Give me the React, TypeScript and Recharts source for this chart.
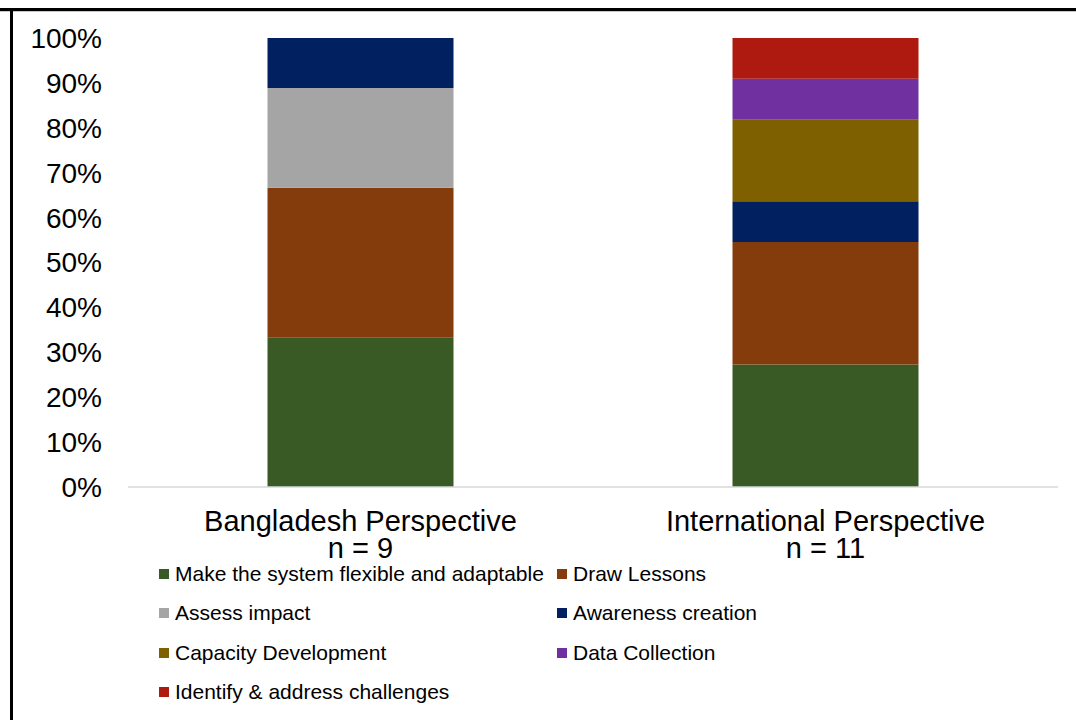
import React from 'react';
import { BarChart, Bar, XAxis, YAxis } from 'recharts';

// Perspectives compared and the number of responses behind each
const categories = ['Bangladesh Perspective', 'International Perspective'];
const sampleSizes = [9, 11];

// Response counts per theme, one entry per perspective
const makeFlexible = [3, 3];
const drawLessons = [3, 3];
const assessImpact = [2, 0];
const awarenessCreation = [1, 1];
const capacityDevelopment = [0, 2];
const dataCollection = [0, 1];
const identifyChallenges = [0, 1];

const seriesNames = [
  'Make the system flexible and adaptable',
  'Draw Lessons',
  'Assess impact',
  'Awareness creation',
  'Capacity Development',
  'Data Collection',
  'Identify & address challenges',
];
const seriesValues = [
  makeFlexible,
  drawLessons,
  assessImpact,
  awarenessCreation,
  capacityDevelopment,
  dataCollection,
  identifyChallenges,
];
const seriesColors = ['#3A5A25', '#843C0C', '#A5A5A5', '#002060', '#7F6000', '#7030A0', '#AE1A10'];

const yTicks = [0, 0.1, 0.2, 0.3, 0.4, 0.5, 0.6, 0.7, 0.8, 0.9, 1];

const data = categories.map((name, i) => {
  const row: Record<string, number | string> = { name, n: sampleSizes[i] };
  seriesValues.forEach((vals, s) => {
    row[`s${s}`] = vals[i];
  });
  return row;
});

const FONT = 'Arial, "Liberation Sans", sans-serif';

const CategoryTick = (props: any) => {
  const { x, y, payload, index } = props;
  return (
    <text x={x} y={y} textAnchor="middle" fontFamily={FONT} fontSize={29} fill="#000">
      <tspan x={x} y={y + 36}>{payload.value}</tspan>
      <tspan x={x} y={y + 63}>{`n = ${sampleSizes[index]}`}</tspan>
    </text>
  );
};

const legendRows = [
  [0, 1],
  [2, 3],
  [4, 5],
  [6],
];
const legendRowY = [574, 613, 653, 692];
const legendColX = [159, 557];

export default function App() {
  return (
    <div
      style={{
        position: 'absolute',
        left: 0,
        top: 0,
        width: 1076,
        height: 720,
        background: '#fff',
        overflow: 'hidden',
        fontFamily: FONT,
      }}
    >
      {/* frame edges */}
      <div style={{ position: 'absolute', left: 0, top: 8, width: 1076, height: 3, background: '#000' }} />
      <div style={{ position: 'absolute', left: 0, top: 11, width: 1076, height: 1, background: '#c8c8c8' }} />
      <div style={{ position: 'absolute', left: 10, top: 8, width: 3, height: 712, background: '#000' }} />

      <div style={{ position: 'absolute', left: 0, top: 0 }}>
        <BarChart
          width={1076}
          height={720}
          data={data}
          stackOffset="expand"
          barCategoryGap="30%"
          margin={{ top: 38, right: 18, bottom: 153, left: 0 }}
        >
          <XAxis
            dataKey="name"
            height={80}
            axisLine={{ stroke: '#D9D9D9', strokeWidth: 1.5 }}
            tickLine={false}
            tick={<CategoryTick />}
            interval={0}
          />
          <YAxis
            width={128}
            domain={[0, 1]}
            ticks={yTicks}
            axisLine={false}
            tickLine={false}
            tickSize={6}
            tickMargin={20}
            tickFormatter={(v: number) => `${Math.round(v * 100)}%`}
            tick={{ fill: '#000', fontSize: 28, fontFamily: FONT }}
          />
          {seriesNames.map((name, s) => (
            <Bar
              key={name}
              dataKey={`s${s}`}
              name={name}
              stackId="a"
              fill={seriesColors[s]}
              isAnimationActive={false}
            />
          ))}
        </BarChart>
      </div>

      {/* legend */}
      {legendRows.map((row, r) =>
        row.map((s, c) => (
          <div
            key={seriesNames[s]}
            style={{
              position: 'absolute',
              left: legendColX[c],
              top: legendRowY[r] - 12,
              height: 24,
              display: 'flex',
              alignItems: 'center',
              whiteSpace: 'nowrap',
              fontSize: 21,
              color: '#000',
            }}
          >
            <span
              style={{
                display: 'inline-block',
                width: 10,
                height: 10,
                background: seriesColors[s],
                marginRight: 6,
              }}
            />
            {seriesNames[s]}
          </div>
        ))
      )}
    </div>
  );
}
